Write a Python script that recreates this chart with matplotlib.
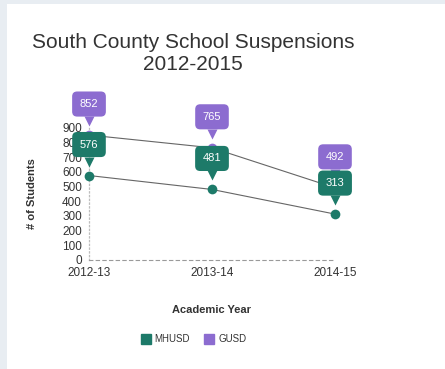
import matplotlib
matplotlib.use("Agg")
import matplotlib.pyplot as plt
from matplotlib import transforms
from matplotlib.patches import Rectangle
from matplotlib.lines import Line2D

plt.rcParams["font.family"] = ["Liberation Sans", "DejaVu Sans"]

years = ["2012-13", "2013-14", "2014-15"]
mhusd = [576, 481, 313]
gusd = [852, 765, 492]
y_ticks = [0, 100, 200, 300, 400, 500, 600, 700, 800, 900]

teal = "#1d7a69"
purple = "#8c6cd0"
text_col = "#333333"

W, H = 445, 369
fig = plt.figure(figsize=(W / 100, H / 100), dpi=100)
fig.patch.set_facecolor("white")

# card frame: light strip on the left and top
fig.patches.append(Rectangle((0, 0), 7 / W, 1, transform=fig.transFigure,
                             facecolor="#e8edf2", edgecolor="none", zorder=0))
fig.patches.append(Rectangle((0, 1 - 4 / H), 1, 4 / H, transform=fig.transFigure,
                             facecolor="#e8edf2", edgecolor="none", zorder=0))

left, right, bottom, top = 89, 335, 260, 128
ax = fig.add_axes([left / W, 1 - bottom / H, (right - left) / W, (bottom - top) / H])
ax.set_facecolor("none")

x = list(range(len(years)))
ax.set_xlim(0, len(years) - 1)
ax.set_ylim(0, 900)

for s in ["top", "right"]:
    ax.spines[s].set_visible(False)
ax.spines["left"].set_linestyle((0, (1, 2)))
ax.spines["left"].set_color("#bdbdbd")
ax.spines["left"].set_linewidth(0.9)
ax.spines["bottom"].set_linestyle((0, (3, 3)))
ax.spines["bottom"].set_color("#9a9a9a")
ax.spines["bottom"].set_linewidth(0.8)

ax.set_xticks(x)
ax.set_xticklabels(years)
ax.set_yticks(y_ticks)
ax.tick_params(axis="both", length=0, labelsize=8.5, colors=text_col, pad=5)
ax.tick_params(axis="x", pad=5)

ax.set_ylabel("# of Students", fontsize=8, fontweight="bold", color=text_col, labelpad=18)
ax.set_xlabel("Academic Year", fontsize=8, fontweight="bold", color=text_col, labelpad=19)

# series lines and points
ax.plot(x, gusd, color="#666666", lw=0.8, zorder=2, clip_on=False)
ax.plot(x, mhusd, color="#666666", lw=0.8, zorder=2, clip_on=False)


def callouts(values, color, z):
    ax.plot(x, values, "o", color=color, ms=7, mec="none", zorder=z, clip_on=False)
    ptr = transforms.offset_copy(ax.transData, fig=fig, x=0, y=14, units="dots")
    ax.plot(x, values, "v", color=color, ms=7, mec="none", zorder=z + 0.5,
            clip_on=False, transform=ptr)
    for xi, v in zip(x, values):
        ax.annotate(str(v), xy=(xi, v), xytext=(0, 31 * 0.72), textcoords="offset points",
                    ha="center", va="center", fontsize=8, color="white",
                    bbox=dict(boxstyle="round,pad=0.68,rounding_size=0.45",
                              fc=color, ec="none"),
                    zorder=z + 0.6, annotation_clip=False)


callouts(gusd, purple, 3)
callouts(mhusd, teal, 5)

fig.text(193 / W, 1 - 53 / H, "South County School Suspensions\n2012-2015",
         ha="center", va="center", fontsize=15, color=text_col, linespacing=1.2)

handles = [Line2D([], [], marker="s", ls="none", color=teal, ms=7.5, label="MHUSD"),
           Line2D([], [], marker="s", ls="none", color=purple, ms=7.5, label="GUSD")]
fig.legend(handles=handles, loc="center", bbox_to_anchor=(194 / W, 1 - 339 / H),
           ncol=2, frameon=False, fontsize=7, handlelength=0.8, handletextpad=0.5,
           columnspacing=1.6, labelcolor=text_col)

fig.savefig("out.png", dpi=100)
